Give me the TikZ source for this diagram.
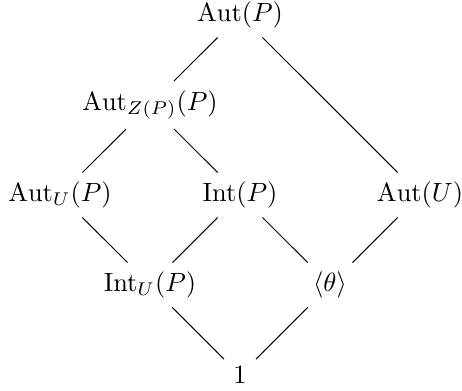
\documentclass[tikz,border=0pt]{standalone}
\usepackage{amsmath}
\usetikzlibrary{positioning}

\begin{document}
\begin{tikzpicture}[
        node distance = 12mm and 12mm, on grid
    ]
      \useasboundingbox (-3.2,0.2) rectangle (2.96,-5.0);
      \node (autP) {$\mathrm{Aut}(P)$};
      \node (autZ) [below left = of autP] {$\mathrm{Aut}_{Z(P)}(P)$};
      \node (autUP) [below left = of autZ] {$\mathrm{Aut}_U(P)$};
      \node (intP) [below right = of autZ] {$\mathrm{Int}(P)$};
      \node (autU) [right = 24mm of intP] {$\mathrm{Aut}(U)$};
      \node (intU) [below right = of autUP] {$\mathrm{Int}_U(P)$};
      \node (theta) [below right = of intP] {$\langle\theta\rangle$};
      \node (one) [below right = of intU] {$1$};

      \path[draw]
        (autP) edge (autZ)
        (autP) edge (autU)
        (autZ) edge (autUP)
        (autZ) edge (intP)
        (autUP) edge (intU)
        (intP) edge (intU)
        (intP) edge (theta)
        (autU) edge (theta)
        (intU) edge (one)
        (theta) edge (one);
    \end{tikzpicture}
\end{document}
